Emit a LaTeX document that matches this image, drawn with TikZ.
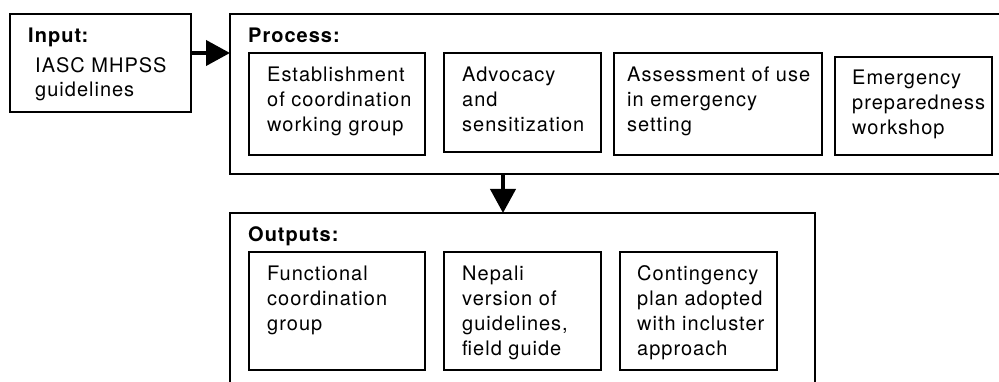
\documentclass[tikz,border=0pt]{standalone}
\usepackage{fontspec}
\setmainfont{TeX Gyre Heros}[LetterSpace=5]
\usetikzlibrary{arrows.meta}
\newcommand\mlines[1]{\parbox[t]{230pt}{\raggedright #1}}
\newcommand\rbox[5]{\node[frame, minimum width={#4-#2}, minimum height={#5-#3}] (#1) at ({(#2+#4)/2},{(#3+#5)/2}) {};}
\begin{document}
\begin{tikzpicture}[x=1pt,y=-1pt,
 frame/.style={draw, line width=1.4pt, inner sep=0pt, outer sep=0pt},
 txt/.style={anchor=base west, inner sep=0pt, font=\fontsize{20}{25}\selectfont},
 hd/.style={anchor=base west, inner sep=0pt, font=\fontsize{20}{25}\selectfont\bfseries},
 arr/.style={line width=4pt, -{Triangle[length=24pt,width=25pt]}}]
\useasboundingbox (0,0) rectangle (999,382);
\fill[white] (0,0) rectangle (999,382);
% boxes
\rbox{inp}{10}{14}{191}{112}
\rbox{proc}{230}{14}{1012}{174}
\rbox{p1}{249}{53}{425}{155}
\rbox{p2}{444}{53}{601}{152}
\rbox{p3}{614}{53}{822}{155}
\rbox{p4}{835}{57}{992}{155}
\rbox{outb}{230}{213}{815}{398}
\rbox{o1}{249}{252}{425}{370}
\rbox{o2}{444}{252}{601}{370}
\rbox{o3}{620}{252}{777}{370}
% texts
\node[hd] (tinp) at (28,43) {Input:};
\node[txt, font=\fontsize{20}{24}\selectfont] (tinp2) at (35,73) {\mlines{IASC MHPSS\\guidelines}};
\node[hd] (tproc) at (248,43) {Process:};
\node[txt] (tp1) at (267,82) {\mlines{Establishment\\of coordination\\working group}};
\node[txt] (tp2) at (462,82) {\mlines{Advocacy\\and\\sensitization}};
\node[txt] (tp3) at (627,82) {\mlines{Assessment of use\\in emergency\\setting}};
\node[txt] (tp4) at (852,85) {\mlines{Emergency\\preparedness\\workshop}};
\node[hd] (tout) at (248,242) {Outputs:};
\node[txt] (to1) at (267,280) {\mlines{Functional\\coordination\\group}};
\node[txt] (to2) at (462,280) {\mlines{Nepali\\version of\\guidelines,\\field guide}};
\node[txt] (to3) at (637,280) {\mlines{Contingency\\plan adopted\\with incluster\\approach}};
% arrows
\draw[arr] ([yshift=10pt]inp.east) -- ([yshift=10pt]inp.east -| proc.west);
\coordinate (dn) at (503,174);
\draw[arr] (dn) -- (dn |- outb.north);
\end{tikzpicture}
\end{document}
